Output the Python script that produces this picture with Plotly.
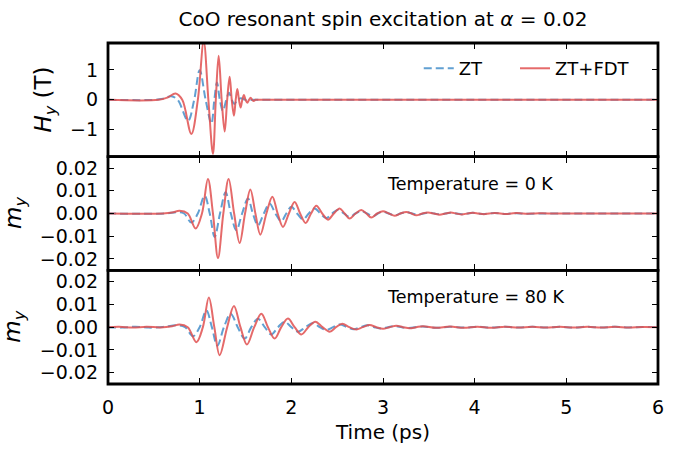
import plotly.graph_objects as go
from plotly.subplots import make_subplots

# ---------------- data ----------------
# Top panel: H_y (T)
t_hy_zt = [0.0, 0.50, 0.60, 0.69, 0.76, 0.873, 0.94, 1.0, 1.065, 1.128,
           1.16, 1.189, 1.22, 1.254, 1.29, 1.32, 1.35, 1.38, 1.41, 1.45,
           1.50, 1.60, 6.0]
hy_zt = [0, 0, 0.04, 0.12, 0, -0.70, 0, 0.99, 0, -0.79,
         0, 0.58, 0, -0.37, 0, 0.24, 0, -0.14, 0, 0.05,
         0, 0, 0]

t_hy_fdt = [0.0, 0.55, 0.65, 0.738, 0.81, 0.909, 0.98, 1.044, 1.095, 1.145,
            1.176, 1.207, 1.24, 1.273, 1.30, 1.327, 1.35, 1.374, 1.393, 1.411,
            1.429, 1.447, 1.465, 1.483, 1.50, 1.52, 1.538, 1.556, 1.573, 1.59,
            1.61, 1.70, 6.0]
hy_fdt = [0, 0, 0.08, 0.21, 0, -1.14, 0, 1.95, 0, -1.81,
          0, 1.47, 0, -1.06, 0, 0.77, 0, -0.53, 0, 0.36,
          0, -0.26, 0, 0.16, 0, -0.10, 0, 0.07, 0, -0.04,
          0, 0, 0]

# Middle panel: m_y at 0 K
t_my0_zt = [0.0, 0.62, 0.75, 0.83, 0.909, 0.98, 1.054, 1.11, 1.163, 1.222,
            1.283, 1.34, 1.40, 1.463, 1.527, 1.58, 1.636, 1.70, 1.763, 1.826,
            1.89, 1.945, 2.0, 2.063, 2.127, 2.19, 2.254, 2.317, 2.38, 2.445,
            2.51, 2.573, 2.636, 2.70, 2.763, 2.826, 2.89, 2.945, 3.0, 3.063,
            3.127, 3.19, 3.254, 3.317, 3.38, 3.44, 3.50, 3.56, 3.62, 3.68,
            3.74, 3.80, 3.86, 3.92, 3.98, 4.04, 4.10, 4.16, 4.22, 4.28,
            4.34, 4.40, 4.46, 4.52, 4.58, 4.70, 6.0]
my0_zt = [0, 0, 0.0006, 0, -0.0040, 0, 0.0078, 0, -0.0103, 0,
          0.0093, 0, -0.0074, 0, 0.0066, 0, -0.0052, 0, 0.0044, 0,
          -0.0034, 0, 0.0030, 0, -0.0026, 0, 0.0022, 0, -0.0020, 0,
          0.0017, 0, -0.0015, 0, 0.0011, 0, -0.0012, 0, 0.0008, 0,
          -0.0008, 0, 0.0006, 0, -0.0006, 0, 0.0004, 0, -0.0004, 0,
          0.0003, 0, -0.0003, 0, 0.0003, 0, -0.0002, 0, 0.0002, 0,
          -0.0002, 0, 0.0001, 0, -0.0001, 0, 0]

t_my0_fdt = [0.0, 0.60, 0.70, 0.78, 0.87, 0.956, 1.025, 1.09, 1.145, 1.20,
             1.258, 1.316, 1.376, 1.436, 1.495, 1.553, 1.608, 1.662, 1.728, 1.793,
             1.851, 1.909, 1.973, 2.036, 2.096, 2.156, 2.215, 2.273, 2.337, 2.40,
             2.464, 2.527, 2.582, 2.636, 2.70, 2.763, 2.818, 2.872, 2.936, 3.0,
             3.064, 3.127, 3.19, 3.254, 3.31, 3.363, 3.43, 3.49, 3.555, 3.618,
             3.68, 3.74, 3.80, 3.86, 3.92, 3.98, 4.04, 4.10, 4.16, 4.22,
             4.28, 4.34, 4.40, 4.46, 4.52, 4.58, 4.64, 4.70, 4.80, 6.0]
my0_fdt = [0, 0, 0.0004, 0.0012, 0, -0.0066, 0, 0.0152, 0, -0.0196,
           0, 0.0152, 0, -0.0130, 0, 0.0106, 0, -0.0093, 0, 0.0074,
           0, -0.0059, 0, 0.0051, 0, -0.0042, 0, 0.0034, 0, -0.0027,
           0, 0.0022, 0, -0.0022, 0, 0.0015, 0, -0.0018, 0, 0.0010,
           0, -0.0010, 0, 0.0007, 0, -0.0008, 0, 0.0004, 0, -0.0005,
           0, 0.0004, 0, -0.0004, 0, 0.0003, 0, -0.0003, 0, 0.0002,
           0, -0.0002, 0, 0.0002, 0, -0.0001, 0, 0.0001, 0, 0]

# Bottom panel: m_y at 80 K
t_my80_zt = [0.0, 0.15, 0.30, 0.45, 0.60, 0.75, 0.84, 0.927, 1.0, 1.073,
             1.133, 1.193, 1.265, 1.338, 1.415, 1.491, 1.563, 1.636, 1.71, 1.782,
             1.855, 1.927, 2.0, 2.072, 2.154, 2.236, 2.308, 2.38, 2.455, 2.53,
             2.605, 2.68, 2.755, 2.83, 2.905, 2.98, 3.055, 3.13, 3.205, 3.28,
             3.43, 3.58, 3.73, 3.88, 4.03, 4.18, 4.33, 4.48, 4.63, 4.78,
             4.93, 5.08, 5.23, 5.38, 5.53, 5.68, 5.83, 6.0]
my80_zt = [0, -0.0002, 0.0002, -0.0002, 0.0001, 0.0008, 0, -0.0040, 0, 0.0074,
           0, -0.0081, 0, 0.0059, 0, -0.0050, 0, 0.0037, 0, -0.0032,
           0, 0.0024, 0, -0.0020, 0, 0.0018, 0, -0.0012, 0, 0.0012,
           0, -0.0009, 0, 0.0008, 0, -0.0006, 0, 0.0005, 0, -0.0004,
           0.0003, -0.0003, 0.0002, -0.0002, 0.0002, -0.0002, 0.0002, -0.0002, 0.0002, -0.0002,
           0.0002, -0.0002, 0.0002, -0.0002, 0.0002, -0.0001, 0.0001, 0]

t_my80_fdt = [0.0, 0.12, 0.27, 0.42, 0.57, 0.70, 0.78, 0.87, 0.964, 1.035,
              1.10, 1.16, 1.218, 1.30, 1.374, 1.445, 1.516, 1.595, 1.673, 1.745,
              1.818, 1.89, 1.963, 2.036, 2.109, 2.185, 2.262, 2.34, 2.418, 2.487,
              2.556, 2.632, 2.709, 2.78, 2.854, 2.927, 3.0, 3.072, 3.145, 3.217,
              3.29, 3.363, 3.436, 3.58, 3.73, 3.88, 4.03, 4.18, 4.33, 4.48,
              4.63, 4.78, 4.93, 5.08, 5.23, 5.38, 5.53, 5.68, 5.83, 6.0]
my80_fdt = [0, 0.0002, -0.0002, 0.0002, -0.0001, 0.0004, 0.0012, 0, -0.0066, 0,
            0.0130, 0, -0.0123, 0, 0.0093, 0, -0.0076, 0, 0.0059, 0,
            -0.0050, 0, 0.0038, 0, -0.0032, 0, 0.0024, 0, -0.0020, 0,
            0.0015, 0, -0.0010, 0, 0.0009, 0, -0.0007, 0, 0.0006, 0,
            -0.0005, 0, 0.0004, -0.0003, 0.0003, -0.0003, 0.0002, -0.0003, 0.0002, -0.0002,
            0.0002, -0.0002, 0.0002, -0.0002, 0.0002, -0.0002, 0.0002, -0.0002, 0.0001, 0]

x_ticks = [0, 1, 2, 3, 4, 5, 6]
hy_ticks = [-1, 0, 1]
my_ticks = [-0.02, -0.01, 0.0, 0.01, 0.02]
series_names = ["ZT", "ZT+FDT"]
panel_labels = ["Temperature = 0 K", "Temperature = 80 K"]

for a, b in [(t_hy_zt, hy_zt), (t_hy_fdt, hy_fdt), (t_my0_zt, my0_zt),
             (t_my0_fdt, my0_fdt), (t_my80_zt, my80_zt), (t_my80_fdt, my80_fdt)]:
    assert len(a) == len(b)

# ---------------- style ----------------
FONT = "DejaVu Sans"
BLUE = "rgba(80,150,205,0.9)"
RED = "rgba(225,80,80,0.85)"
LW = 2.0
DASH = "8px,4px"

fig = make_subplots(rows=3, cols=1, shared_xaxes=True, vertical_spacing=0)

panels = [
    (t_hy_zt, hy_zt, t_hy_fdt, hy_fdt),
    (t_my0_zt, my0_zt, t_my0_fdt, my0_fdt),
    (t_my80_zt, my80_zt, t_my80_fdt, my80_fdt),
]
for i, (tz, vz, tf, vf) in enumerate(panels):
    row = i + 1
    fig.add_trace(go.Scatter(x=tz, y=vz, mode="lines", name=series_names[0],
                             line=dict(color=BLUE, width=LW, dash=DASH, shape="spline", smoothing=1.0),
                             showlegend=(i == 0), legend="legend"), row=row, col=1)
    fig.add_trace(go.Scatter(x=tf, y=vf, mode="lines", name=series_names[1],
                             line=dict(color=RED, width=LW, shape="spline", smoothing=1.0),
                             showlegend=(i == 0), legend="legend2"), row=row, col=1)

axis_common = dict(showline=False, mirror="allticks",
                   ticks="inside", ticklen=6, tickwidth=1.3, tickcolor="black",
                   showgrid=False, zeroline=False,
                   tickfont=dict(family=FONT, size=19, color="black"))

for r in (1, 2, 3):
    fig.update_xaxes(range=[0, 6], tickvals=x_ticks, row=r, col=1, **axis_common)
fig.update_xaxes(showticklabels=True, ticklabelstandoff=10, row=3, col=1,
                 title=dict(text="Time (ps)", font=dict(family=FONT, size=20, color="black"), standoff=7))

fig.update_yaxes(range=[-1.9, 1.9], tickvals=hy_ticks, tickformat="d", ticklabelstandoff=9,
                 row=1, col=1, **axis_common)
for r in (2, 3):
    fig.update_yaxes(range=[-0.025, 0.025], tickvals=my_ticks, tickformat=".2f", ticklabelstandoff=9,
                     row=r, col=1, **axis_common)

# thick frames around each panel (shared edges overlap into one line)
for xr, yr in (("x", "y"), ("x2", "y2"), ("x3", "y3")):
    fig.add_shape(type="rect", xref=f"{xr} domain", yref=f"{yr} domain",
                  x0=0, x1=1, y0=0, y1=1, line=dict(color="black", width=2.8),
                  fillcolor="rgba(0,0,0,0)", layer="above")

# y-axis titles as rotated annotations
fig.add_annotation(text="<i>H</i><sub><i>y</i></sub> (T)", xref="paper", yref="y domain",
                   x=-0.115, y=0.5, textangle=-90, showarrow=False,
                   font=dict(family=FONT, size=23, color="black"), xanchor="center", yanchor="middle")
for yd in ("y2 domain", "y3 domain"):
    fig.add_annotation(text="<i>m</i><sub><i>y</i></sub>", xref="paper", yref=yd,
                       x=-0.17, y=0.5, textangle=-90, showarrow=False,
                       font=dict(family=FONT, size=23, color="black"), xanchor="center", yanchor="middle")

# temperature labels
fig.add_annotation(text=panel_labels[0], xref="x2", yref="y2", x=3.02, y=0.013,
                   showarrow=False, xanchor="left", yanchor="middle",
                   font=dict(family=FONT, size=17.5, color="black"))
fig.add_annotation(text=panel_labels[1], xref="x3", yref="y3", x=3.02, y=0.0131,
                   showarrow=False, xanchor="left", yanchor="middle",
                   font=dict(family=FONT, size=17.5, color="black"))

legend_common = dict(orientation="h", y=0.925, xanchor="left", yanchor="middle",
                     bgcolor="rgba(0,0,0,0)", font=dict(family=FONT, size=18, color="black"),
                     itemwidth=30)

fig.update_layout(
    width=678, height=451,
    margin=dict(l=108, r=20, t=43, b=67),
    paper_bgcolor="white", plot_bgcolor="white",
    title=dict(text="CoO resonant spin excitation at <i>α</i> = 0.02",
               xref="paper", x=0.5, xanchor="center", y=0.958, yanchor="middle",
               font=dict(family=FONT, size=20, color="black")),
    legend=dict(x=0.565, **legend_common),
    legend2=dict(x=0.74, **legend_common),
    showlegend=True,
)

fig.write_html("out.html", post_script="document.body.style.margin='0px';",
               config={"displayModeBar": False})
